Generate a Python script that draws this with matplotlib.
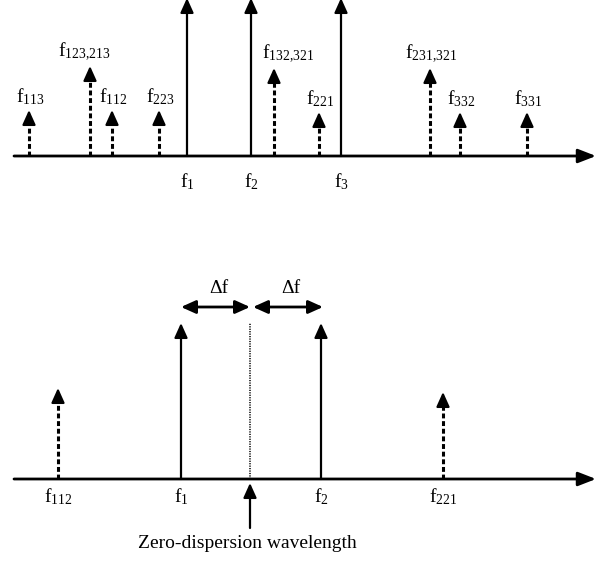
import matplotlib
matplotlib.use("Agg")
import matplotlib.pyplot as plt

plt.rcParams['font.family'] = ['Liberation Serif', 'DejaVu Serif']
plt.rcParams['mathtext.fontset'] = 'custom'
plt.rcParams['mathtext.rm'] = 'Liberation Serif'
plt.rcParams['mathtext.it'] = 'Liberation Serif:italic'

# --- top spectrum: three pumps and their FWM products ---
top_sub = ['113', '123,213', '112', '223', '1', '2', '132,321', '221', '3', '231,321', '332', '331']
top_freq = [29, 90, 112, 159, 187, 251, 274, 319, 341, 430, 460, 527]
top_amp = [46, 90, 46, 46, 158, 158, 88, 44, 158, 88, 44, 44]
top_pump = ['1', '2', '3']

# --- bottom spectrum: two pumps around the zero-dispersion wavelength ---
bot_sub = ['112', '1', '2', '221']
bot_freq = [58, 181, 321, 443]
bot_amp = [91, 156, 156, 87]
bot_pump = ['1', '2']
zero_disp = 250
zero_text = 'Zero-dispersion wavelength'

# layout (figure is laid out in pixel units)
TOP_BASE = 156
BOT_BASE = 479
FS = 14
HEAD = dict(arrowstyle='-|>,head_length=0.8,head_width=0.36', color='black',
            lw=1.6, shrinkA=0, shrinkB=0, mutation_scale=11)
HEAD_LEN = 9
label_dx = {'123,213': -6, '132,321': 14}

fig = plt.figure(figsize=(6.11, 5.65), dpi=100)
ax = fig.add_axes([0, 0, 1, 1])
ax.set_xlim(0, 611)
ax.set_ylim(565, 0)
ax.axis('off')


def axis_line(y):
    ax.annotate('', xy=(596, y), xytext=(14, y),
                arrowprops=dict(arrowstyle='-|>,head_length=0.9,head_width=0.35',
                                color='black', lw=2, shrinkA=0, shrinkB=0,
                                mutation_scale=12))


def spike(x, base, amp, pump):
    tip = base - amp
    if pump:
        ax.annotate('', xy=(x, tip), xytext=(x, base), arrowprops=HEAD,
                    annotation_clip=False)
    else:
        ax.plot([x, x], [base, tip + HEAD_LEN], color='black', lw=2.2,
                linestyle=(0, (1.6, 0.9)), solid_capstyle='butt')
        ax.annotate('', xy=(x, tip), xytext=(x, tip + HEAD_LEN + 1), arrowprops=HEAD)


def flabel(sub):
    return r'$\mathrm{f}_{\mathrm{%s}}$' % sub.replace(',', '{,}')


# top panel
axis_line(TOP_BASE)
for s, x, a in zip(top_sub, top_freq, top_amp):
    pump = s in top_pump
    spike(x, TOP_BASE, a, pump)
    if pump:
        ax.text(x, TOP_BASE + 15, flabel(s), fontsize=FS, ha='center', va='top')
    else:
        ax.text(x + label_dx.get(s, 1), TOP_BASE - a - 3, flabel(s), fontsize=FS,
                ha='center', va='bottom')

# bottom panel
axis_line(BOT_BASE)
for s, x, a in zip(bot_sub, bot_freq, bot_amp):
    spike(x, BOT_BASE, a, s in bot_pump)
    ax.text(x, BOT_BASE + 7, flabel(s), fontsize=FS, ha='center', va='top')

# zero-dispersion marker and frequency spacing
pump_top = BOT_BASE - max(bot_amp)
ax.plot([zero_disp, zero_disp], [BOT_BASE, pump_top], color='black', lw=1.1,
        linestyle=(0, (0.8, 0.8)))
ax.annotate('', xy=(zero_disp, BOT_BASE + 4), xytext=(zero_disp, BOT_BASE + 49),
            arrowprops=HEAD)
ax.text(zero_disp - 3, BOT_BASE + 56, zero_text, fontsize=FS, ha='center', va='top')

dy = pump_top - 16
for a, b in [(bot_freq[1], zero_disp), (zero_disp + 3, bot_freq[2] + 2)]:
    ax.annotate('', xy=(b, dy), xytext=(a, dy),
                arrowprops=dict(arrowstyle='<|-|>,head_length=0.8,head_width=0.36',
                                color='black', lw=2, shrinkA=0, shrinkB=0,
                                mutation_scale=11))
    ax.text((a + b) / 2 + 3, dy - 10, 'Δf', fontsize=FS, ha='center', va='bottom')

fig.savefig('out.png', dpi=100, facecolor='white')
